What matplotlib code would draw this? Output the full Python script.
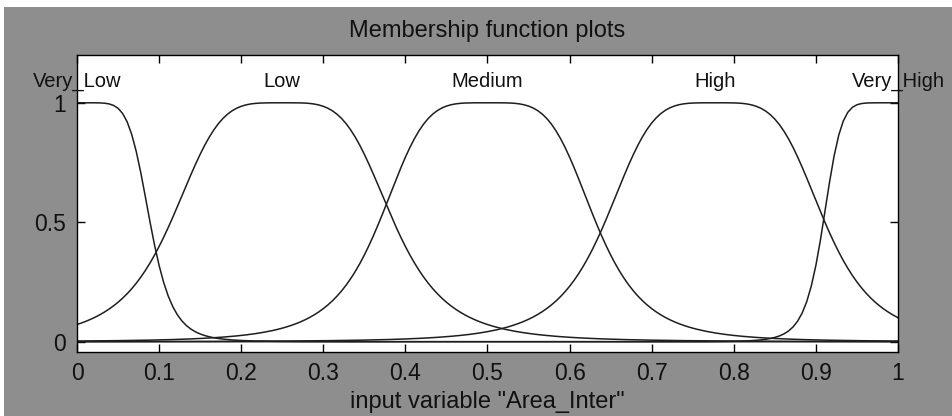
import numpy as np
import matplotlib
matplotlib.use("Agg")
import matplotlib.pyplot as plt
from matplotlib.patches import Rectangle

plt.rcParams['font.family'] = ['Liberation Sans', 'DejaVu Sans']

# Generalized bell membership functions for input variable "Area_Inter"
mf_names = ["Very_Low", "Low", "Medium", "High", "Very_High"]
mf_width = [0.089, 0.136, 0.132, 0.134, 0.091]   # a
mf_slope = [3.25, 2.1, 2.2, 2.15, 4.0]            # b
mf_center = [0.0, 0.25, 0.5, 0.777, 1.0]          # c

x_range = [0.0, 1.0]
n_points = 181
x_ticks = [0, 0.1, 0.2, 0.3, 0.4, 0.5, 0.6, 0.7, 0.8, 0.9, 1]
x_tick_labels = ["0", "0.1", "0.2", "0.3", "0.4", "0.5", "0.6", "0.7", "0.8", "0.9", "1"]
y_ticks = [0, 0.5, 1]
y_tick_labels = ["0", "0.5", "1"]


def gbellmf(x, a, b, c):
    return 1.0 / (1.0 + np.abs((x - c) / a) ** (2 * b))


W, H = 953, 416
fig = plt.figure(figsize=(W / 100, H / 100), dpi=100)
fig.patch.set_facecolor("white")

# grey window panel behind the plot
fig.add_artist(Rectangle((4 / W, 0), 1 - 4 / W, (H - 7) / H,
                         transform=fig.transFigure, facecolor="#8e8e8e",
                         edgecolor="none", zorder=0))

ax = fig.add_axes([77 / W, 64 / H, 821 / W, 297 / H])
ax.set_facecolor("white")

x = np.linspace(x_range[0], x_range[1], n_points)
for name, a, b, c in zip(mf_names, mf_width, mf_slope, mf_center):
    y = gbellmf(x, a, b, c)
    ax.plot(x, y, color="#1e1e1e", lw=1.1, solid_joinstyle="round")
    ax.text(c, 1.066, name, ha="center", va="baseline", fontsize=14.5,
            color="#111111")

ax.set_xlim(x_range)
ax.set_ylim(-0.043, 1.2)
ax.set_xticks(x_ticks)
ax.set_xticklabels(x_tick_labels)
ax.set_yticks(y_ticks)
ax.set_yticklabels(y_tick_labels)
ax.tick_params(axis="both", direction="in", length=6, width=1, color="black",
               labelsize=16.5, labelcolor="#111111", top=True, right=True)
ax.tick_params(axis="x", pad=7)
ax.tick_params(axis="y", pad=8)
for s in ax.spines.values():
    s.set_color("black")
    s.set_linewidth(1.0)

ax.set_xlabel('input variable "Area_Inter"', fontsize=17, color="#111111",
              labelpad=0)
ax.xaxis.set_label_coords(0.5, -0.13)
ax.xaxis.label.set_va("top")

fig.text((77 + 821 / 2) / W, (H - 37) / H, "Membership function plots",
         ha="center", va="baseline", fontsize=17, color="#111111")

fig.savefig("out.png", dpi=100, facecolor=fig.get_facecolor())
